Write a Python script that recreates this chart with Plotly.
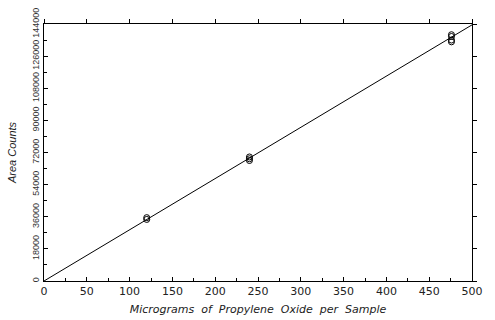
import plotly.graph_objects as go

# Data
sample_ug = [120, 120, 240, 240, 240, 476, 476, 476, 476]
area_counts = [34500, 35500, 67500, 68500, 69500, 134000, 135000, 137000, 138000]
fit_x = [0, 500]
fit_y = [0, 143500]

x_ticks = list(range(0, 501, 50))
y_ticks = list(range(0, 144001, 18000))
y_tick_labels = [str(v) for v in y_ticks]

fig = go.Figure()
fig.add_trace(go.Scatter(x=fit_x, y=fit_y, mode="lines",
                         line=dict(color="black", width=1), showlegend=False))
fig.add_trace(go.Scatter(x=sample_ug, y=area_counts, mode="markers",
                         marker=dict(symbol="circle-open", size=6, color="black",
                                     line=dict(width=1)),
                         showlegend=False))
# invisible trace for top / right axes
fig.add_trace(go.Scatter(x=fit_x, y=fit_y, xaxis="x2", yaxis="y2", mode="lines",
                         line=dict(width=0), hoverinfo="skip", showlegend=False))

axfont = dict(family="DejaVu Sans, Verdana, sans-serif", size=11, color="#222")
fig.update_layout(
    width=495, height=320,
    margin=dict(l=44, r=23, t=24, b=39),
    paper_bgcolor="white", plot_bgcolor="white",
    xaxis=dict(range=[0, 500], tickvals=x_ticks, ticks="inside", ticklen=4,
               tickcolor="black", showline=True, linecolor="black", linewidth=1,
               showgrid=False, zeroline=False, tickfont=axfont, automargin=False,
               minor=dict(dtick=25, ticks="inside", ticklen=3, tickcolor="black"),
               title=dict(text="<i>Micrograms  of  Propylene  Oxide  per  Sample</i>",
                          font=dict(family="DejaVu Sans, Verdana, sans-serif", size=11, color="#222"),
                          standoff=8)),
    yaxis=dict(range=[0, 144000], tickvals=y_ticks, ticktext=y_tick_labels,
               ticks="inside", ticklen=4, automargin=False,
               tickcolor="black", showline=True, linecolor="black", linewidth=1,
               showgrid=False, zeroline=False, tickangle=-90, tickfont=dict(
                   family="Liberation Sans, Arial, sans-serif", size=9, color="#333"),
               minor=dict(dtick=9000, ticks="inside", ticklen=3, tickcolor="black"),
               title=dict(text="<i>Area Counts</i>",
                          font=dict(family="Liberation Sans, Arial, sans-serif", size=11, color="#222"),
                          standoff=12)),
    xaxis2=dict(range=[0, 500], overlaying="x", side="top", tickvals=x_ticks,
                ticks="outside", ticklen=4, tickcolor="black", showticklabels=False,
                showline=True, linecolor="black", linewidth=1, showgrid=False,
                zeroline=False, automargin=False),
    yaxis2=dict(range=[0, 144000], overlaying="y", side="right", tickvals=y_ticks,
                ticks="outside", ticklen=4, tickcolor="black", showticklabels=False,
                showline=True, linecolor="black", linewidth=1, showgrid=False,
                zeroline=False, automargin=False),
)

fig.write_html("out.html")
